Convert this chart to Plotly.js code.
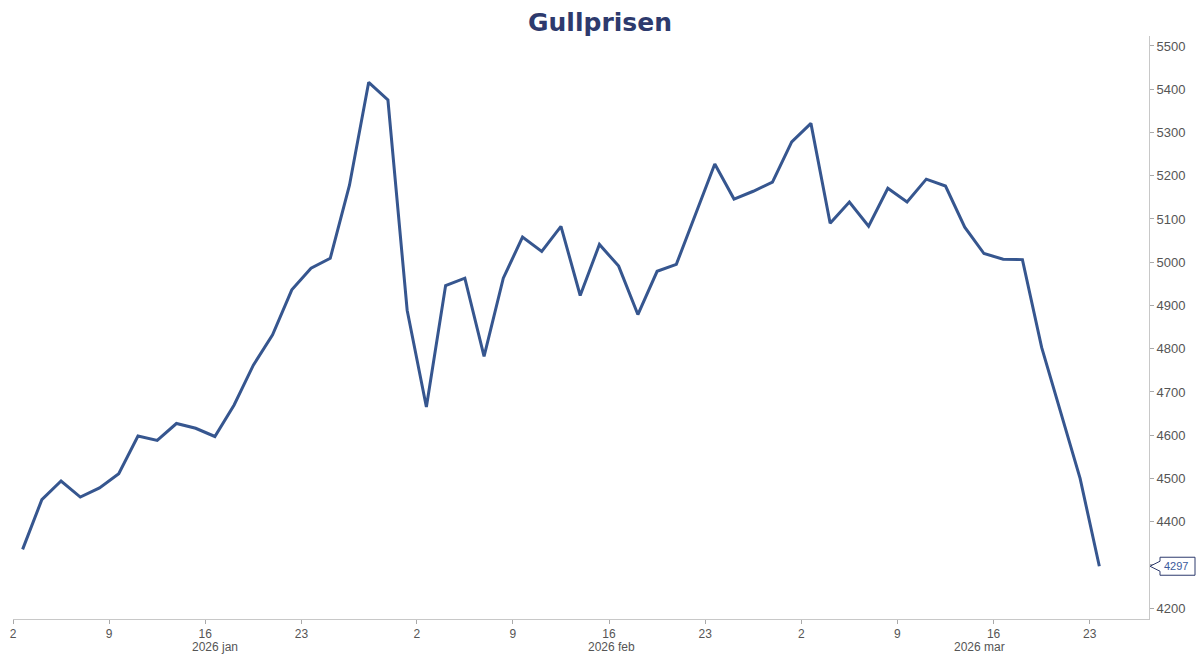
<!DOCTYPE html>
<html>
<head>
<meta charset="utf-8">
<script src="https://cdn.plot.ly/plotly-3.0.1.min.js"></script>
<style>
  html, body { margin: 0; padding: 0; background: #ffffff; }
  #chart { width: 1200px; height: 664px; }
</style>
</head>
<body>
<div id="chart"></div>
<script>
// Trading days (weekends skipped)
const dates = [
  "2026-01-02","2026-01-05","2026-01-06","2026-01-07","2026-01-08","2026-01-09",
  "2026-01-12","2026-01-13","2026-01-14","2026-01-15","2026-01-16",
  "2026-01-19","2026-01-20","2026-01-21","2026-01-22","2026-01-23",
  "2026-01-26","2026-01-27","2026-01-28","2026-01-29","2026-01-30",
  "2026-02-02","2026-02-03","2026-02-04","2026-02-05","2026-02-06",
  "2026-02-09","2026-02-10","2026-02-11","2026-02-12","2026-02-13",
  "2026-02-16","2026-02-17","2026-02-18","2026-02-19","2026-02-20",
  "2026-02-23","2026-02-24","2026-02-25","2026-02-26","2026-02-27",
  "2026-03-02","2026-03-03","2026-03-04","2026-03-05","2026-03-06",
  "2026-03-09","2026-03-10","2026-03-11","2026-03-12","2026-03-13",
  "2026-03-16","2026-03-17","2026-03-18","2026-03-19","2026-03-20",
  "2026-03-23"
];

// Gold price (USD/oz)
const prices = [
  4336, 4451, 4494, 4457, 4478, 4511,
  4598, 4588, 4627, 4616, 4597,
  4670, 4762, 4832, 4936, 4986,
  5009, 5178, 5416, 5375, 4889,
  4665, 4946, 4963, 4782, 4963,
  5058, 5025, 5083, 4923, 5041,
  4991, 4879, 4979, 4995, 5111,
  5227, 5146, 5164, 5185, 5278,
  5321, 5090, 5139, 5083, 5171,
  5139, 5192, 5176, 5081, 5020,
  5007, 5006, 4803, 4650, 4500,
  4297
];

// X-axis tick labels
const tickDates = ["2026-01-02","2026-01-09","2026-01-16","2026-01-23",
                   "2026-02-02","2026-02-09","2026-02-16","2026-02-23",
                   "2026-03-02","2026-03-09","2026-03-16","2026-03-23"];
const tickLabels = ["2","9","16","23","2","9","16","23","2","9","16","23"];

// Month labels
const monthLabels = ["2026 jan","2026 feb","2026 mar"];
const monthPos = ["2026-01-16 12:00","2026-02-16 03:00","2026-03-13 06:00"];

// Y-axis ticks (4300 is hidden behind the last-value callout)
const yTicks = [4200,4300,4400,4500,4600,4700,4800,4900,5000,5100,5200,5300,5400,5500];
const yTickText = ["4200","","4400","4500","4600","4700","4800","4900","5000","5100","5200","5300","5400","5500"];

const lineColor = "#36568f";
const navy = "#2d3a6d";
const tickFont = {family: "'Liberation Sans Narrow', 'Liberation Sans', Arial, sans-serif", size: 13, color: "#555555"};

const last = prices[prices.length - 1];

const trace = {
  type: "scatter",
  mode: "lines",
  x: dates,
  y: prices,
  xperiod: 86400000,
  xperiodalignment: "middle",
  line: {color: lineColor, width: 3},
  hoverinfo: "x+y"
};

const annotations = monthLabels.map((t, i) => ({
  text: t, x: monthPos[i], xref: "x", y: 0, yref: "paper",
  yshift: -28, yanchor: "middle", xanchor: "center",
  showarrow: false, font: {family: tickFont.family, size: 12, color: "#555555"}
}));

annotations.push({
  text: String(last), x: 1, xref: "paper", y: last, yref: "y",
  xanchor: "left", yanchor: "middle", xshift: 13,
  showarrow: false,
  font: {family: "'Liberation Sans', Arial, sans-serif", size: 11, color: "#3b5a9c"}
});

const layout = {
  width: 1200, height: 664,
  margin: {l: 13, r: 51, t: 36, b: 45},
  paper_bgcolor: "#ffffff",
  plot_bgcolor: "#ffffff",
  showlegend: false,
  title: {
    text: "<b>Gullprisen</b>",
    x: 0.5, xref: "container", xanchor: "center",
    y: 0.966, yref: "container", yanchor: "middle",
    font: {family: "'DejaVu Sans', sans-serif", size: 25, color: navy}
  },
  xaxis: {
    type: "date",
    range: ["2026-01-02", "2026-03-26 02:00"],
    rangebreaks: [{bounds: ["sat", "mon"]}],
    tickmode: "array",
    tickvals: tickDates,
    ticktext: tickLabels,
    ticks: "outside", ticklen: 4, tickwidth: 1, tickcolor: "#aaaaaa",
    showline: true, linecolor: "#c8c8c8", linewidth: 1,
    showgrid: false, zeroline: false,
    tickfont: {family: tickFont.family, size: 12, color: "#555555"},
    fixedrange: true
  },
  yaxis: {
    side: "right",
    range: [4175, 5523],
    tickmode: "array",
    tickvals: yTicks,
    ticktext: yTickText,
    ticks: "outside", ticklen: 4, tickwidth: 1, tickcolor: "#aaaaaa",
    showline: true, linecolor: "#c8c8c8", linewidth: 1,
    showgrid: false, zeroline: false,
    tickfont: tickFont,
    fixedrange: true
  },
  shapes: [{
    type: "path",
    xref: "paper", yref: "y",
    xsizemode: "pixel", ysizemode: "pixel",
    xanchor: 1, yanchor: last,
    path: "M 1 0 L 11 5 L 11 9 L 46 9 L 46 -9 L 11 -9 L 11 -5 Z",
    fillcolor: "#ffffff",
    line: {color: navy, width: 1},
    layer: "above"
  }],
  annotations: annotations
};

Plotly.newPlot("chart", [trace], layout, {displayModeBar: false, staticPlot: true});
</script>
</body>
</html>
